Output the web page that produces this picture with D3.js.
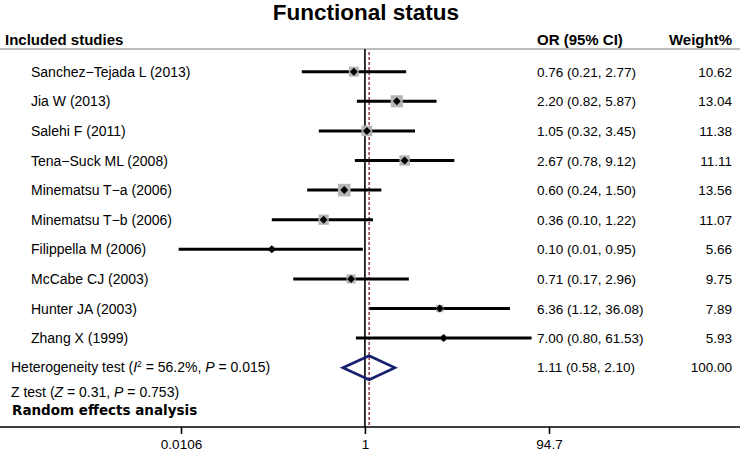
<!DOCTYPE html>
<html>
<head>
<meta charset="utf-8">
<script src="https://cdn.jsdelivr.net/npm/d3@7"></script>
<style>
  body { margin: 0; background: #fff; }
  svg { display: block; font-family: "Liberation Sans", Arial, sans-serif; }
</style>
</head>
<body>
<div id="chart"></div>
<script>
const studies = ["Sanchez\u2212Tejada L (2013)", "Jia W (2013)", "Salehi F (2011)", "Tena\u2212Suck ML (2008)",
  "Minematsu T\u2212a (2006)", "Minematsu T\u2212b (2006)", "Filippella M (2006)", "McCabe CJ (2003)",
  "Hunter JA (2003)", "Zhang X (1999)"];
const orValues = [0.76, 2.20, 1.05, 2.67, 0.60, 0.36, 0.10, 0.71, 6.36, 7.00];
const lowerCI = [0.21, 0.82, 0.32, 0.78, 0.24, 0.10, 0.01, 0.17, 1.12, 0.80];
const upperCI = [2.77, 5.87, 3.45, 9.12, 1.50, 1.22, 0.95, 2.96, 36.08, 61.53];
const weights = [10.62, 13.04, 11.38, 11.11, 13.56, 11.07, 5.66, 9.75, 7.89, 5.93];
const pooled = { or: 1.11, lo: 0.58, hi: 2.10, w: 100.00 };
const tickValues = [0.0106, 1, 94.7];
const tickLabels = ["0.0106", "1", "94.7"];

const W = 740, H = 453;
const svg = d3.select("#chart").append("svg").attr("width", W).attr("height", H);

const x = d3.scaleLog().domain([0.0106, 94.7]).range([181, 549]);
const rowY = d3.scaleLinear().domain([0, 1]).range([71.7, 101.3]);
const axisY = 427;
const topY = 49;

// Title
svg.append("text").attr("x", 366).attr("y", 20).attr("text-anchor", "middle")
  .attr("font-size", 22.5).attr("font-weight", "bold").text("Functional status");

// Headers
svg.append("text").attr("x", 5).attr("y", 45).attr("font-size", 15).attr("font-weight", "bold").text("Included studies");
svg.append("text").attr("x", 537).attr("y", 45).attr("font-size", 15).attr("font-weight", "bold").text("OR (95% CI)");
svg.append("text").attr("x", 732).attr("y", 45).attr("text-anchor", "end").attr("font-size", 15).attr("font-weight", "bold").text("Weight%");
svg.append("line").attr("x1", 0).attr("x2", W).attr("y1", topY).attr("y2", topY)
  .attr("stroke", "#bdbdbd").attr("stroke-width", 2);

// Reference lines
svg.append("line").attr("x1", x(1)).attr("x2", x(1)).attr("y1", topY).attr("y2", axisY)
  .attr("stroke", "#000").attr("stroke-width", 1.6);
svg.append("line").attr("x1", x(pooled.or)).attr("x2", x(pooled.or)).attr("y1", topY + 3).attr("y2", axisY)
  .attr("stroke", "#9b4a55").attr("stroke-width", 1.6).attr("stroke-dasharray", "3,2");

// Study rows
const rows = svg.append("g");
studies.forEach((s, i) => {
  const y = rowY(i);
  rows.append("text").attr("x", 31).attr("y", y + 5).attr("font-size", 14).text(s);
  rows.append("line").attr("x1", x(lowerCI[i])).attr("x2", x(upperCI[i])).attr("y1", y).attr("y2", y)
    .attr("stroke", "#000").attr("stroke-width", 3);
  const sz = weights[i] * 0.93;
  rows.append("rect").attr("x", x(orValues[i]) - sz / 2).attr("y", y - sz / 2)
    .attr("width", sz).attr("height", sz).attr("fill", "#b5b5b5");
  const cx = x(orValues[i]), d = 4;
  rows.append("path").attr("d", `M${cx - d},${y}L${cx},${y - d}L${cx + d},${y}L${cx},${y + d}Z`).attr("fill", "#000");
  rows.append("text").attr("x", 537).attr("y", y + 5).attr("font-size", 13.5)
    .text(`${orValues[i].toFixed(2)} (${lowerCI[i].toFixed(2)}, ${upperCI[i].toFixed(2)})`);
  rows.append("text").attr("x", 732).attr("y", y + 5).attr("text-anchor", "end").attr("font-size", 13.5)
    .text(weights[i].toFixed(2));
});

// Pooled row
const py = rowY(studies.length);
const het = svg.append("text").attr("x", 11).attr("y", py + 4).attr("font-size", 14);
het.append("tspan").text("Heterogeneity test (");
het.append("tspan").attr("font-style", "italic").text("I");
het.append("tspan").attr("font-size", 8.5).attr("dy", -5).text("2");
het.append("tspan").attr("dy", 5).text(" = 56.2%, ");
het.append("tspan").attr("font-style", "italic").text("P");
het.append("tspan").text(" = 0.015)");

svg.append("path")
  .attr("d", `M${x(pooled.lo)},${py}L${x(pooled.or)},${py - 12}L${x(pooled.hi)},${py}L${x(pooled.or)},${py + 12}Z`)
  .attr("fill", "none").attr("stroke", "#16206e").attr("stroke-width", 2.6);
svg.append("text").attr("x", 537).attr("y", py + 4).attr("font-size", 13.5)
  .text(`${pooled.or.toFixed(2)} (${pooled.lo.toFixed(2)}, ${pooled.hi.toFixed(2)})`);
svg.append("text").attr("x", 732).attr("y", py + 4).attr("text-anchor", "end").attr("font-size", 13.5)
  .text(pooled.w.toFixed(2));

const zt = svg.append("text").attr("x", 11).attr("y", 397).attr("font-size", 14);
zt.append("tspan").text("Z test (");
zt.append("tspan").attr("font-style", "italic").text("Z");
zt.append("tspan").text(" = 0.31, ");
zt.append("tspan").attr("font-style", "italic").text("P");
zt.append("tspan").text(" = 0.753)");

svg.append("text").attr("x", 12).attr("y", 414.5).attr("font-weight", "bold")
  .attr("font-family", "'DejaVu Sans', sans-serif").attr("font-size", 13.5).text("Random effects analysis");

// Axis
svg.append("line").attr("x1", 0).attr("x2", W).attr("y1", axisY).attr("y2", axisY)
  .attr("stroke", "#000").attr("stroke-width", 1.6);
const axis = d3.axisBottom(x).tickValues(tickValues).tickFormat((d, i) => tickLabels[i]).tickSize(7);
const ag = svg.append("g").attr("transform", `translate(0,${axisY})`).call(axis);
ag.select(".domain").remove();
ag.selectAll(".tick line").attr("stroke", "#000").attr("stroke-width", 1.6);
ag.selectAll(".tick text").attr("font-size", 13.5).attr("fill", "#000").attr("y", 21.5).attr("dy", 0)
  .attr("font-family", "'Liberation Sans', Arial, sans-serif");
</script>
</body>
</html>
